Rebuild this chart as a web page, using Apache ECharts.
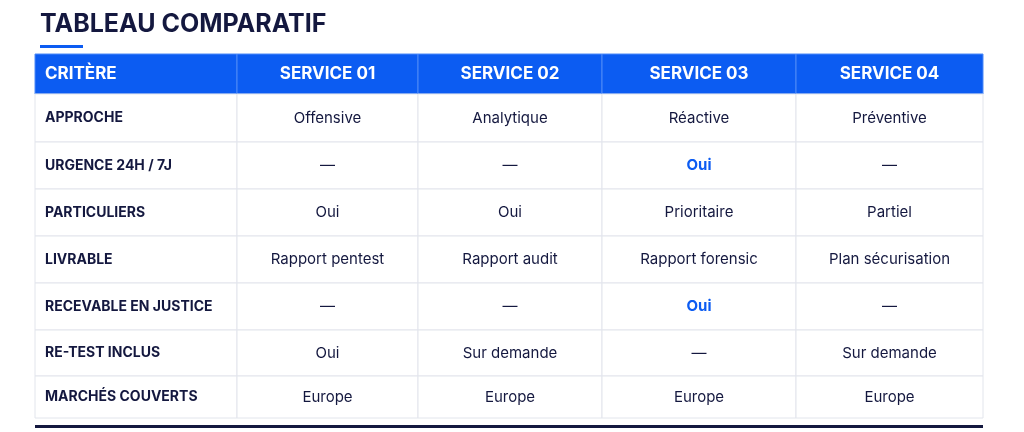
<!DOCTYPE html>
<html><head><meta charset="utf-8">
<script src="https://cdn.jsdelivr.net/npm/echarts@6/dist/echarts.min.js"></script>
<style>html,body{margin:0;padding:0;background:#fff}#c{width:1024px;height:432px}</style>
</head><body><div id="c"></div>
<script>
var title = 'TABLEAU COMPARATIF';
var headers = ['CRITÈRE','SERVICE 01','SERVICE 02','SERVICE 03','SERVICE 04'];
var criteria = ['APPROCHE','URGENCE 24H / 7J','PARTICULIERS','LIVRABLE','RECEVABLE EN JUSTICE','RE-TEST INCLUS','MARCHÉS COUVERTS'];
var service01 = ['Offensive','—','Oui','Rapport pentest','—','Oui','Europe'];
var service02 = ['Analytique','—','Oui','Rapport audit','—','Sur demande','Europe'];
var service03 = ['Réactive','Oui','Prioritaire','Rapport forensic','Oui','—','Europe'];
var service04 = ['Préventive','—','Partiel','Plan sécurisation','—','Sur demande','Europe'];
var highlight = [[3,1],[3,4]];

var colX = [35,237,418,602,796,983];
var rowY = [54,94,142,189,236,283,330,376,418];
var cols = [criteria, service01, service02, service03, service04];
var data = [];
for (var c=0;c<5;c++){ data.push([c,-1,headers[c]]); for (var r=0;r<criteria.length;r++) data.push([c,r,cols[c][r]]); }
function isHi(c,r){return highlight.some(function(h){return h[0]===c&&h[1]===r;});}
var FONT='Inter, Roboto, sans-serif';
var chart = echarts.init(document.getElementById('c'));
chart.setOption({
  animation:false,
  graphic:[
    {type:'text',left:40,top:12,style:{text:title,font:'bold 25px '+FONT,fill:'#14183f'}},
    {type:'rect',shape:{x:40,y:45,width:43,height:3},style:{fill:'#0c5cf2'}},
    {type:'rect',shape:{x:35,y:425,width:948,height:3},style:{fill:'#14183f'}}
  ],
  series:[{
    type:'custom',coordinateSystem:'none',data:data,
    renderItem:function(p,api){
      var c=api.value(0), r=api.value(1), t=data[p.dataIndex][2];
      var x0=colX[c], x1=colX[c+1], y0=rowY[r+1], y1=rowY[r+2];
      var head=r<0, left=c===0;
      var hi=isHi(c,r);
      return {type:'group',children:[
        {type:'rect',shape:{x:x0,y:y0,width:x1-x0,height:y1-y0},
         style:{fill:head?'#0c5cf2':'#fff',stroke:head?'#4f8af7':'#e2e5ec',lineWidth:1}},
        {type:'text',style:{text:t,x:left?x0+10:(x0+x1)/2,y:(y0+y1)/2,
          align:left?'left':'center',verticalAlign:'middle',
          font:(head?'bold 17px ':(left?'bold 14px ':(hi?'bold 15px ':'15px ')))+FONT,
          fill:head?'#fff':(hi?'#0c5cf2':'#14183f')}}
      ]};
    }
  }]
});
</script></body></html>
